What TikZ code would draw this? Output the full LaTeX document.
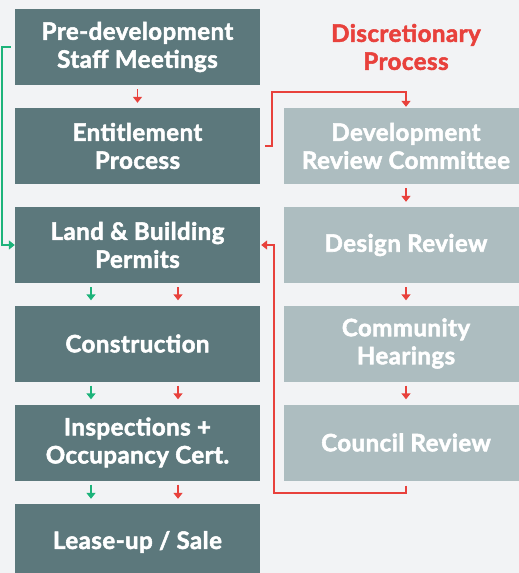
\documentclass[tikz,border=0pt]{standalone}
\usepackage{fontspec}
\setmainfont{Lato}[BoldFeatures={FakeBold=2.2, LetterSpace=2}]
\usetikzlibrary{arrows.meta}
\definecolor{bg}{HTML}{F2F3F5}
\definecolor{dark}{HTML}{5C787C}
\definecolor{light}{HTML}{ADBDC0}
\definecolor{myred}{HTML}{E8413C}
\definecolor{mygreen}{HTML}{1DB37A}
\tikzset{
  box/.style={minimum width=245pt, minimum height=76pt, inner sep=0pt, align=center,
    text=white, font=\bfseries\fontsize{24}{28}\selectfont},
  dbox/.style={box, fill=dark},
  lbox/.style={box, fill=light},
  rarr/.style={draw=myred, line width=1.8pt, -{Triangle[width=9pt,length=6pt]}},
  garr/.style={draw=mygreen, line width=1.8pt, -{Triangle[width=9pt,length=6pt]}},
}
\begin{document}
\begin{tikzpicture}[x=1pt,y=-1pt]
\clip (0,0) rectangle (519,573);
\fill[bg] (0,0) rectangle (519,573);
% left column
\node[dbox] (pre)  at (137.5,47)  {Pre-development\\Staff Meetings};
\node[dbox] (ent)  at (137.5,146) {Entitlement\\Process};
\node[dbox] (land) at (137.5,245) {Land \& Building\\Permits};
\node[dbox] (cons) at (137.5,343.5) {Construction};
\node[dbox] (insp) at (137.5,442.5) {Inspections +\\Occupancy Cert.};
\node[dbox] (sale) at (137.5,542) {Lease-up / Sale};
% right column
\node[text=myred, align=center, font=\bfseries\fontsize{24}{28}\selectfont] (head) at (406,47) {Discretionary\\Process};
\node[lbox] (drc)  at (406,146) {Development\\Review Committee};
\node[lbox] (dr)   at (406,245) {Design Review};
\node[lbox] (ch)   at (406,343.5) {Community\\Hearings};
\node[lbox] (crev) at (406,442.5) {Council Review};
% arrows left
\draw[rarr] ([yshift=-4pt]pre.south) -- ([yshift=5pt]ent.north);
\foreach \a/\b in {land/cons, cons/insp, insp/sale}{
  \draw[garr] ([xshift=-46.5pt,yshift=-4pt]\a.south) -- ([xshift=-46.5pt,yshift=5pt]\b.north);
  \draw[rarr] ([xshift=40.5pt,yshift=-4pt]\a.south) -- ([xshift=40.5pt,yshift=5pt]\b.north);
}
% arrows right
\foreach \a/\b in {drc/dr, dr/ch, ch/crev}{
  \draw[rarr] ([yshift=-4pt]\a.south) -- ([yshift=5pt]\b.north);
}
% connectors
\draw[rarr] ([xshift=5pt]ent.east) -- ++(7,0) |- ([yshift=16pt]drc.north) -- ([yshift=1pt]drc.north);
\draw[garr] ([xshift=-4pt]pre.west) -| ([xshift=-13pt]land.west) -- (land.west);
\draw[rarr] ([yshift=-5pt]crev.south) -- ++(0,7) -| ([xshift=14pt]land.east) -- ([xshift=1pt]land.east);
\end{tikzpicture}
\end{document}
